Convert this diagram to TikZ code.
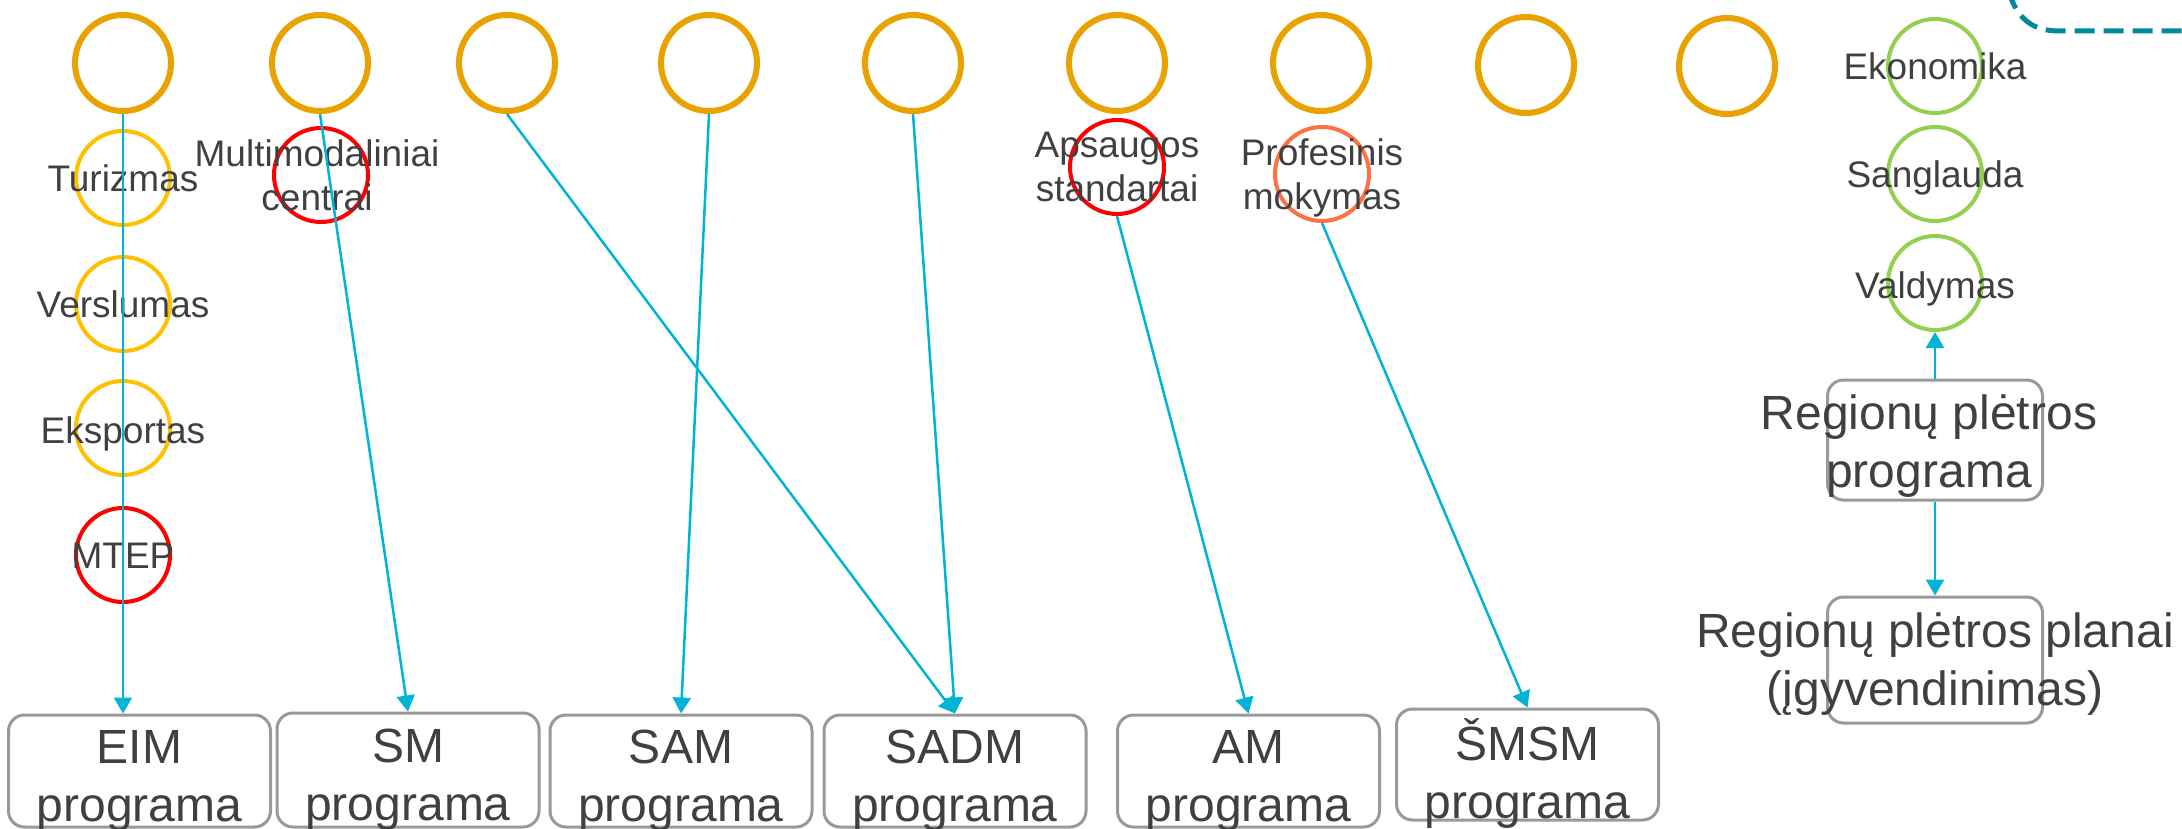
\documentclass[tikz,border=0pt]{standalone}
\usepackage{fontspec}
\setmainfont{Liberation Sans}
\usetikzlibrary{arrows.meta}
\definecolor{toporange}{HTML}{E8A202}
\definecolor{yellowring}{HTML}{FFC000}
\definecolor{redring}{HTML}{FF0000}
\definecolor{coralring}{HTML}{FF7043}
\definecolor{greenring}{HTML}{92D050}
\definecolor{linkcyan}{HTML}{00B4D6}
\definecolor{boxgray}{HTML}{999999}
\definecolor{textgray}{HTML}{404040}
\definecolor{dashteal}{HTML}{00889B}

\begin{document}
\begin{tikzpicture}[x=1pt, y=-1pt,
    ring/.style={circle, inner sep=0pt, minimum size=94pt, line width=4pt},
    topring/.style={ring, draw=toporange, line width=6pt, minimum size=96pt},
    yellowtheme/.style={ring, draw=yellowring},
    redtheme/.style={ring, draw=redring},
    coraltheme/.style={ring, draw=coralring},
    greentheme/.style={ring, draw=greenring},
    smalltxt/.style={text=textgray, align=center, font=\fontsize{37}{44}\selectfont},
    onetxt/.style={text=textgray, font=\fontsize{37}{44}\selectfont, text height=27pt, text depth=0pt},
    bigtxt/.style={text=textgray, align=center, font=\fontsize{48}{58}\selectfont},
    prog/.style={draw=boxgray, line width=3pt, rounded corners=16pt, inner sep=0pt,
        minimum width=262pt, minimum height=112pt},
    link/.style={linkcyan, line width=2.5pt, -{Triangle[length=16pt, width=18pt]}},
    dashline/.style={dashteal, line width=5pt, dash pattern=on 20pt off 9pt}
]
    \path[use as bounding box, clip] (0,0) rectangle (2182,829);
    % Viršutiniai apskritimai
    \node[topring] (t1) at (123,63) {};
    \node[topring] (t2) at (320,63) {};
    \node[topring] (t3) at (507,63) {};
    \node[topring] (t4) at (709,63) {};
    \node[topring] (t5) at (913,63) {};
    \node[topring] (t6) at (1117,63) {};
    \node[topring] (t7) at (1321,63) {};
    \node[topring] (t8) at (1526,65) {};
    \node[topring] (t9) at (1727,66) {};
    % Temos
    \node[yellowtheme, label={[onetxt]center:Turizmas}] (turizmas) at (123,178) {};
    \node[yellowtheme, label={[onetxt]center:Verslumas}] (verslumas) at (123,304) {};
    \node[yellowtheme, label={[onetxt, yshift=-2pt]center:Eksportas}] (eksportas) at (123,428) {};
    \node[redtheme, label={[onetxt]center:MTEP}] (mtep) at (123,555) {};
    \node[redtheme, label={[smalltxt, xshift=-4pt]center:Multimodaliniai\\centrai}] (multimod) at (321,175) {};
    \node[redtheme, label={[smalltxt]center:Apsaugos\\standartai}] (apsauga) at (1117,167) {};
    \node[coraltheme, label={[smalltxt, yshift=-4pt]center:Profesinis\\mokymas}] (profesinis) at (1322,174) {};
    \node[greentheme, label={[onetxt]center:Ekonomika}] (ekonomika) at (1935,66) {};
    \node[greentheme, label={[onetxt]center:Sanglauda}] (sanglauda) at (1935,174) {};
    \node[greentheme, label={[onetxt, yshift=-2pt]center:Valdymas}] (valdymas) at (1935,283) {};
    % Programos
    \node[prog, label={[bigtxt, yshift=-10pt]center:EIM\\programa}] (eim) at (139.5,771) {};
    \node[prog, minimum height=114pt, label={[bigtxt, yshift=-10pt]center:SM\\programa}] (sm) at (408,770) {};
    \node[prog, label={[bigtxt, yshift=-10pt]center:SAM\\programa}] (sam) at (681,771) {};
    \node[prog, label={[bigtxt, yshift=-10pt]center:SADM\\programa}] (sadm) at (955,771) {};
    \node[prog, label={[bigtxt, yshift=-10pt]center:AM\\programa}] (am) at (1248.5,771) {};
    \node[prog, minimum height=111pt, label={[bigtxt, yshift=-9pt]center:ŠMSM\\programa}] (smsm) at (1527.5,764.5) {};
    \node[prog, minimum width=215pt, minimum height=120pt,
        label={[bigtxt, yshift=-6pt, xshift=-6pt]center:Regionų plėtros\\programa}] (rpp) at (1935,440) {};
    \node[prog, minimum width=215pt, minimum height=126pt,
        label={[bigtxt, yshift=-4pt]center:Regionų plėtros planai\\(įgyvendinimas)}] (rplan) at (1935,660) {};
    % Ryšiai
    \draw[link] (t1.south) -- (t1.south |- eim.north);
    \draw[link] (t2.south) -- (sm.north);
    \draw[link] (t3.south) -- (sadm.north);
    \draw[link] (t4.south) -- (sam.north);
    \draw[link] (t5.south) -- (sadm.north);
    \draw[link] (apsauga.south) -- (am.north);
    \draw[link] (profesinis.south) -- (smsm.north);
    \draw[link] (rpp.north) -- (valdymas.south);
    \draw[link] (rpp.south) -- (rplan.north);
    % Punktyrinis rėmas
    \draw[dashline] (2008,-10) .. controls (2018,22) and (2035,31) .. (2060,31) -- (2190,31);
\end{tikzpicture}
\end{document}
